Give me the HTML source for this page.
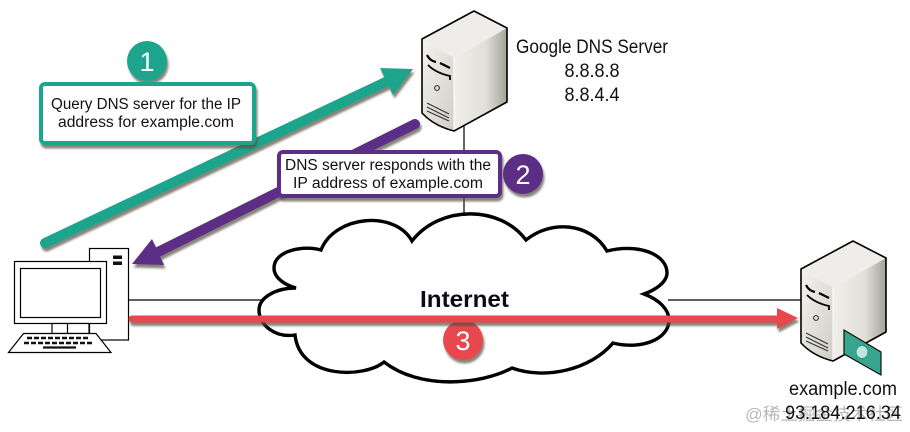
<!DOCTYPE html>
<html><head><meta charset="utf-8"><style>
html,body{margin:0;padding:0;background:#fff;width:910px;height:432px;overflow:hidden}
svg{display:block}
text{font-family:"Liberation Sans","Noto Sans CJK SC",sans-serif}
</style></head><body>
<svg width="910" height="432" viewBox="0 0 910 432" xmlns="http://www.w3.org/2000/svg">
<defs>
<filter id="s" x="-20%" y="-30%" width="140%" height="160%"><feDropShadow dx="1.5" dy="3.5" stdDeviation="1" flood-color="#55503f" flood-opacity=".7"/></filter>
<linearGradient id="lf" x1="0" y1="0" x2="1" y2="1"><stop offset="0" stop-color="#f4f3ef"/><stop offset="1" stop-color="#cfcdc6"/></linearGradient>
<linearGradient id="rf" x1="0" y1="0" x2="1" y2="0"><stop offset="0" stop-color="#f0efea"/><stop offset=".6" stop-color="#e0dfd8"/><stop offset="1" stop-color="#a3a39b"/></linearGradient>
<g id="srv">
<polygon points="422,39 474,11 507,28 454,58" fill="#eeede9"/>
<polygon points="454,58 507,28 507,102 454,131" fill="url(#rf)"/>
<path d="M422,39 L454,58 L454,131 Q434,126 422,113 Z" fill="url(#lf)"/>
<line x1="454" y1="58" x2="454" y2="131" stroke="#fff" stroke-width="1"/>
<path d="M422,39 L474,11 L507,28 L507,102 L454,131 Q434,126 422,113 Z" fill="none" stroke="#000" stroke-width="1.6" stroke-linejoin="round"/>
<path d="M427,55 Q430,61 436,62 M440,63 L450,68" stroke="#000" stroke-width="2.2" fill="none"/>
<path d="M428,65 Q436,73 450,76 L450,80" stroke="#000" stroke-width="1.8" fill="none"/>
<circle cx="437" cy="88" r="2.4" fill="none" stroke="#222" stroke-width="1"/>
<path d="M427,103 L449,114 M427,107 L449,118 M427,111 L449,121" stroke="#333" stroke-width="1" fill="none"/>
</g>
</defs>
<rect width="910" height="432" fill="#fff"/>

<!-- connector lines -->
<line x1="464" y1="125" x2="464" y2="216" stroke="#000" stroke-width="1.2"/>
<line x1="129" y1="300" x2="262" y2="300" stroke="#000" stroke-width="1.2"/>
<line x1="668" y1="300" x2="802" y2="300" stroke="#000" stroke-width="1.2"/>

<!-- cloud -->
<path d="M321,250 C335,215 395,210 412,241 C440,205 500,205 526,240 C550,220 590,222 607,251 C640,243 668,255 667,274 C666,283 655,290 644,294 C660,300 669,310 669,320 C669,340 640,350 613,343 C590,370 545,380 512,368 C480,385 420,390 384,362 C365,378 300,380 295,335 C275,338 259,325 259,310 C259,298 275,288 296,288 C285,285 274,278 274,268 C274,250 305,245 321,250 Z" fill="#fff" stroke="#000" stroke-width="3.4" stroke-linejoin="miter"/>
<text x="464.5" y="307" font-size="23" font-weight="bold" text-anchor="middle" fill="#0c0a14" textLength="89" lengthAdjust="spacingAndGlyphs">Internet</text>

<!-- servers -->
<use href="#srv"/>
<use href="#srv" transform="translate(379,230)"/>

<!-- card -->
<polygon points="844,330 881,352 881,375 844,354" fill="#3aa58e"/>
<polygon points="844,330 881,352 881,375 844,354" fill="none" stroke="#111" stroke-width="1.2"/>
<ellipse cx="862" cy="352" rx="6" ry="6.5" fill="#bfe6da" stroke="#2a9a85" stroke-width="1"/>

<!-- computer -->
<g fill="#fff" stroke="#000" stroke-width="1.2">
<rect x="89.5" y="248.5" width="39" height="91.5"/>
<rect x="14.5" y="261.5" width="92" height="62"/>
<rect x="20.5" y="268.5" width="80" height="49"/>
<rect x="52" y="323.5" width="37" height="10"/>
<line x1="67.5" y1="323.5" x2="67.5" y2="333"/>
<polygon points="23.5,333.5 96,333.5 111,352.5 8.5,352.5"/>
</g>
<rect x="113" y="255.5" width="9" height="3.5" fill="#111"/>
<rect x="113" y="261.5" width="9" height="3.5" fill="#111"/>
<path d="M27,338 H90" stroke="#111" stroke-width="2.6" stroke-dasharray="5 2"/>
<path d="M24,343 H94" stroke="#111" stroke-width="2.6" stroke-dasharray="5 2"/>
<path d="M43,347.5 H76" stroke="#111" stroke-width="2.2"/>

<!-- teal arrow -->
<g filter="url(#s)">
<line x1="45" y1="243" x2="392" y2="79" stroke="#1fa58c" stroke-width="10" stroke-linecap="round"/>
<polygon points="413,69 380,68 393,95" fill="#1fa58c"/>
</g>

<!-- purple arrow -->
<g filter="url(#s)">
<line x1="415" y1="124" x2="150" y2="256" stroke="#5b2d86" stroke-width="10" stroke-linecap="round"/>
<polygon points="132,264 152,239 164,265" fill="#5b2d86"/>
</g>

<!-- circle 3 -->
<g filter="url(#s)">
<circle cx="463" cy="340" r="20" fill="#e8474f"/>
</g>
<text x="463" y="350" font-size="27" text-anchor="middle" fill="#fff">3</text>

<!-- red arrow -->
<g filter="url(#s)">
<line x1="132" y1="319" x2="780" y2="319" stroke="#e8474f" stroke-width="7" stroke-linecap="round"/>
<polygon points="798,318 777,308 777,329" fill="#e8474f"/>
</g>

<!-- box 1 -->
<g filter="url(#s)">
<circle cx="147" cy="61" r="20" fill="#1fa58c"/>
<rect x="41" y="84" width="213" height="59" rx="4" fill="#fff" stroke="#1fa58c" stroke-width="4"/>
</g>
<text x="147" y="71" font-size="27" text-anchor="middle" fill="#fff">1</text>
<text x="146" y="109" font-size="15.5" text-anchor="middle" fill="#111" textLength="190" lengthAdjust="spacingAndGlyphs">Query DNS server for the IP</text>
<text x="146" y="127" font-size="15.5" text-anchor="middle" fill="#111" textLength="176" lengthAdjust="spacingAndGlyphs">address for example.com</text>

<!-- box 2 -->
<g filter="url(#s)">
<circle cx="523" cy="174" r="20" fill="#5b2d86"/>
<rect x="279" y="152" width="221" height="44" rx="4" fill="#fff" stroke="#5b2d86" stroke-width="4"/>
</g>
<text x="523" y="184" font-size="27" text-anchor="middle" fill="#fff">2</text>
<text x="388" y="170" font-size="15.5" text-anchor="middle" fill="#111" textLength="206" lengthAdjust="spacingAndGlyphs">DNS server responds with the</text>
<text x="388" y="188" font-size="15.5" text-anchor="middle" fill="#111" textLength="190" lengthAdjust="spacingAndGlyphs">IP address of example.com</text>

<!-- labels -->
<text x="592" y="53" font-size="19" text-anchor="middle" fill="#111" textLength="152" lengthAdjust="spacingAndGlyphs">Google DNS Server</text>
<text x="592" y="77" font-size="19" text-anchor="middle" fill="#111" textLength="55" lengthAdjust="spacingAndGlyphs">8.8.8.8</text>
<text x="592" y="101" font-size="19" text-anchor="middle" fill="#111" textLength="55" lengthAdjust="spacingAndGlyphs">8.8.4.4</text>
<text x="843" y="395" font-size="19" text-anchor="middle" fill="#111" textLength="108" lengthAdjust="spacingAndGlyphs">example.com</text>
<text x="824" y="420" font-size="17" text-anchor="middle" fill="#b8b8b8" textLength="158" lengthAdjust="spacingAndGlyphs">@稀土掘金技术社区</text>
<text x="843" y="419" font-size="19" text-anchor="middle" fill="#111" textLength="116" lengthAdjust="spacingAndGlyphs">93.184.216.34</text>
</svg>
</body></html>
